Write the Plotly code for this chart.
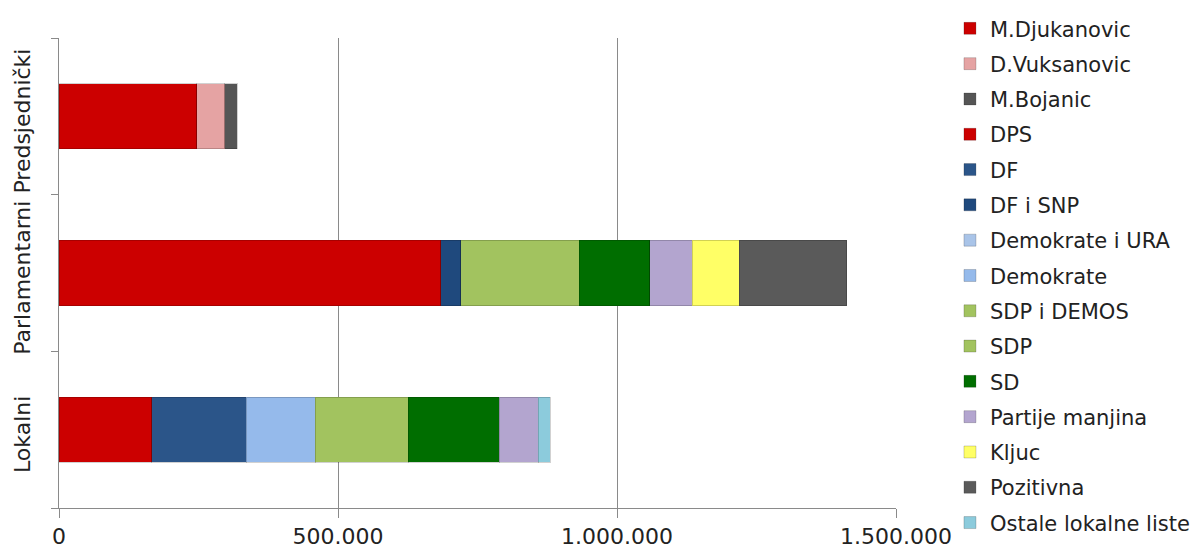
import plotly.graph_objects as go

categories = ["Lokalni", "Parlamentarni", "Predsjednički"]

series_names = [
    "M.Djukanovic", "D.Vuksanovic", "M.Bojanic", "DPS", "DF", "DF i SNP",
    "Demokrate i URA", "Demokrate", "SDP i DEMOS", "SDP", "SD",
    "Partije manjina", "Kljuc", "Pozitivna", "Ostale lokalne liste",
]

# values per category: [Lokalni, Parlamentarni, Predsjednički]
m_djukanovic = [None, None, 247000]
d_vuksanovic = [None, None, 50000]
m_bojanic = [None, None, 22000]
dps = [166000, 684000, None]
df = [170000, None, None]
df_i_snp = [None, 36000, None]
demokrate_i_ura = [None, None, None]
demokrate = [123000, None, None]
sdp_i_demos = [None, 212000, None]
sdp = [167000, None, None]
sd = [163000, 127000, None]
partije_manjina = [70000, 76000, None]
kljuc = [None, 84000, None]
pozitivna = [None, 193000, None]
ostale = [21000, None, None]

series_values = [
    m_djukanovic, d_vuksanovic, m_bojanic, dps, df, df_i_snp,
    demokrate_i_ura, demokrate, sdp_i_demos, sdp, sd,
    partije_manjina, kljuc, pozitivna, ostale,
]

colors = [
    "#CC0000", "#E5A3A3", "#555555", "#CC0000", "#2B5589", "#1F497D",
    "#A9C4E8", "#95BAEB", "#A2C35F", "#A2C35F", "#006E00",
    "#B3A5CF", "#FFFF66", "#5A5A5A", "#8CCBDC",
]

x_ticks = [0, 500000, 1000000, 1500000]

FONT = "DejaVu Sans"

fig = go.Figure()
for i, (name, vals, col) in enumerate(zip(series_names, series_values, colors)):
    fig.add_trace(go.Bar(
        name=name, y=categories, x=vals, orientation="h",
        marker=dict(color=col, line=dict(color="rgba(0,0,0,0.18)", width=1)),
        legendgroup=f"g{i}",
    ))

fig.update_layout(
    barmode="stack",
    bargap=0.585,
    width=1204, height=548,
    margin=dict(l=59, r=308, t=38, b=40, autoexpand=False),
    paper_bgcolor="white", plot_bgcolor="white",
    separators=",.",
    font=dict(family=FONT, size=21, color="#222222"),
    showlegend=True,
    legend=dict(
        xref="container", yref="container",
        x=0.789, xanchor="left", y=0.985, yanchor="top",
        traceorder="grouped", tracegroupgap=5,
        maxheight=548,
        font=dict(family=FONT, size=21, color="#222222"),
        bgcolor="rgba(0,0,0,0)",
    ),
    xaxis=dict(
        range=[0, 1500000], tickvals=x_ticks, tickformat=",d",
        showgrid=True, gridcolor="#8a8a8a", gridwidth=1,
        zeroline=False, showline=True, linecolor="#8a8a8a", linewidth=1,
        ticks="outside", ticklen=9, tickcolor="#8a8a8a",
        ticklabelstandoff=0,
        tickfont=dict(family=FONT, size=22, color="#222222"),
        automargin=False,
    ),
    yaxis=dict(
        categoryorder="array", categoryarray=categories,
        showgrid=False, zeroline=False,
        showline=True, linecolor="#8a8a8a", linewidth=1,
        ticks="outside", ticklen=7, tickcolor="#8a8a8a", tickson="boundaries",
        tickangle=-90, ticklabelstandoff=19, ticklabelshift=8,
        tickfont=dict(family=FONT, size=22, color="#222222"),
        automargin=False,
    ),
)

fig.write_html(
    "out.html",
    config={"displayModeBar": False},
    post_script="document.body.style.margin='0';document.body.style.overflow='hidden';",
)
